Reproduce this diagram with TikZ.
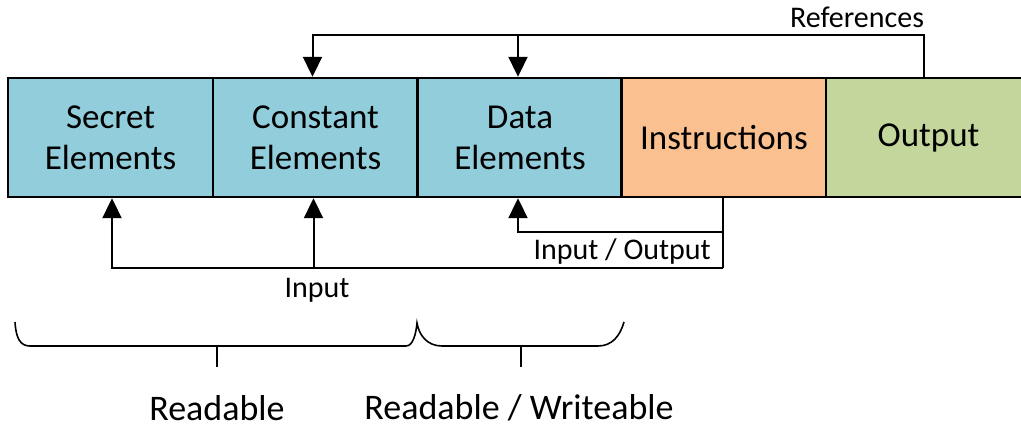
\documentclass[tikz,border=0pt]{standalone}
\usepackage{fontspec}
\setmainfont{Carlito}
\usetikzlibrary{arrows.meta}
\definecolor{memblue}{RGB}{146,205,220}
\definecolor{memorange}{RGB}{250,192,144}
\definecolor{memgreen}{RGB}{195,214,155}
\begin{document}
\begin{tikzpicture}[x=1pt,y=-1pt,
  cell/.style={draw=black,line width=2.4pt,minimum width=205pt,minimum height=119pt,
    inner sep=0pt,align=center,font=\fontsize{35}{41}\selectfont},
  flow/.style={line width=2pt,-{Triangle[length=20pt,width=19pt]}},
  plain/.style={line width=2pt},
  lbl/.style={font=\fontsize{30}{36}\selectfont,inner sep=0pt},
  biglbl/.style={font=\fontsize{36}{42}\selectfont,inner sep=0pt},
  brace/.style={line width=1.6pt}]
\useasboundingbox (0,0) rectangle (1021,428);

% memory layout cells
\node[cell,fill=memblue]   (secret)   at (110.5,137.5) {Secret\\Elements};
\node[cell,fill=memblue]   (constant) at (315.5,137.5) {Constant\\Elements};
\node[cell,fill=memblue]   (data)     at (520,137.5)   {Data\\Elements};
\node[cell,fill=memorange] (instr)    at (724,137.5)   {Instructions};
\node[cell,fill=memgreen]  (output)   at (928.5,137.5) {Output};

% routing levels
\coordinate (refY) at (0,35);
\coordinate (ioY)  at (0,232);
\coordinate (inY)  at (0,268);
\coordinate (refX) at (924,0);

% references from the output back to constant and data cells
\draw[flow] ([xshift=-4.5pt]output.north) |- ([xshift=-3pt]constant.north |- refY) -- ([xshift=-3pt]constant.north);
\draw[flow] ([xshift=-2pt]data.north |- refY) -- ([xshift=-2pt]data.north);
\node[lbl] (reflbl) at (857,17) {References};

% instructions: input/output to data, input to secret and constant
\draw[flow] ([xshift=-1pt]instr.south) |- ([xshift=-2pt]data.south |- ioY) -- ([xshift=-2pt]data.south);
\draw[plain] ([xshift=-1pt]instr.south |- ioY) -- ([xshift=-1pt]instr.south |- inY);
\draw[flow] ([xshift=-1pt]instr.south |- inY) -| ([xshift=1.5pt]secret.south);
\draw[flow] ([xshift=-2pt]constant.south |- inY) -- ([xshift=-2pt]constant.south);
\node[lbl,anchor=east] (iolbl) at (711,252) {Input / Output};
\node[lbl] (inlbl) at (317,290) {Input};

% braces grouping the access rights
\draw[brace] (15,322) .. controls (16,338) and (20,346) .. (30,346) -- (406,346)
  .. controls (413,346) and (416,334) .. (417,323)
  .. controls (419,335) and (427,346) .. (442,346) -- (598,346)
  .. controls (612,346) and (620,336) .. (624,322);
\draw[brace] (217,346) -- (217,367);
\draw[brace] (521,346) -- (521,367);
\node[biglbl] (rdlbl) at (217,408) {Readable};
\node[biglbl] (rwlbl) at (519,408) {Readable / Writeable};
\end{tikzpicture}
\end{document}
